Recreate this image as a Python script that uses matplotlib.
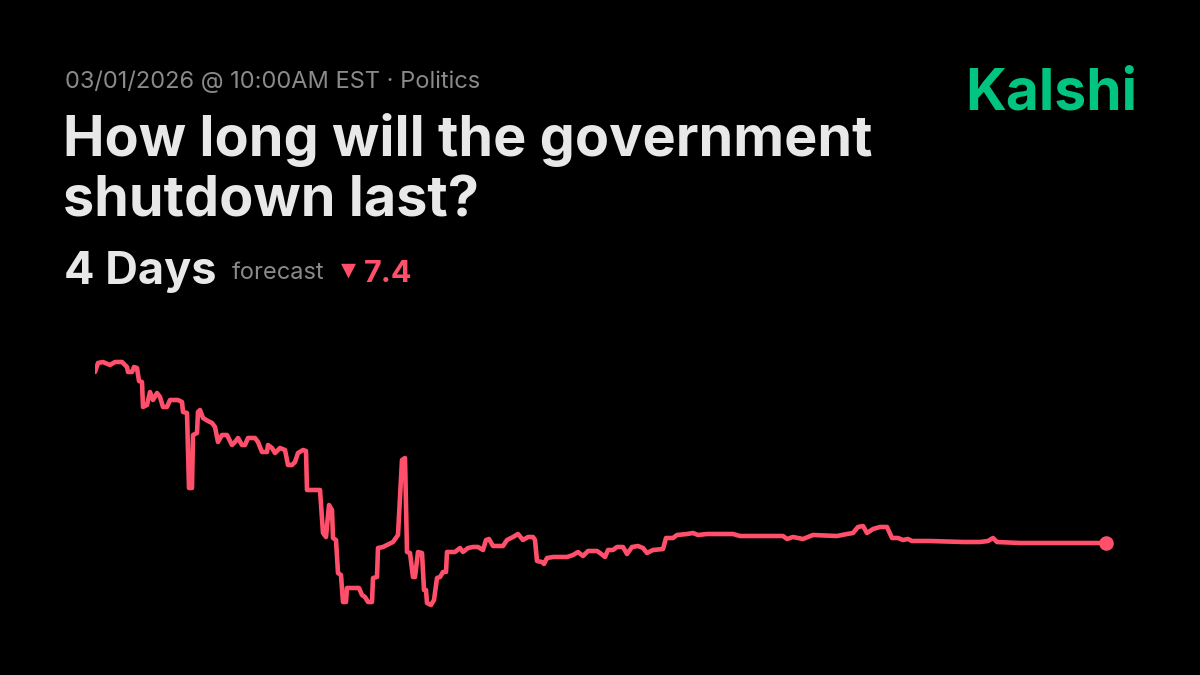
import matplotlib
matplotlib.use("Agg")
import matplotlib.pyplot as plt

# --- Data (time in arbitrary steps, level in arbitrary units) ---
t = [0, 3, 8, 15, 20, 27, 30, 32, 33, 37, 39, 42, 44, 47, 48, 52, 55, 58, 62, 65,
     68, 72, 75, 83, 87, 88, 92, 94, 97, 98, 102, 103, 105, 108, 113, 117, 120, 123, 127, 132,
     137, 140, 143, 147, 150, 153, 160, 163, 167, 172, 173, 177, 180, 185, 190, 193, 197, 200, 203, 208,
     211, 212, 225, 228, 231, 234, 237, 238, 241, 243, 246, 248, 251, 252, 264, 267, 270, 273, 277, 278,
     282, 283, 288, 292, 298, 303, 307, 310, 312, 315, 318, 320, 323, 327, 329, 331, 332, 336, 339, 342,
     345, 348, 351, 352, 360, 365, 368, 373, 378, 383, 388, 391, 394, 398, 408, 412, 418, 423, 428, 433,
     438, 440, 442, 447, 449, 452, 458, 472, 478, 483, 488, 493, 502, 505, 510, 513, 518, 522, 528, 532,
     537, 543, 548, 552, 558, 568, 571, 578, 582, 592, 598, 603, 612, 638, 645, 688, 692, 698, 708, 718,
     742, 752, 758, 763, 768, 772, 778, 785, 792, 797, 803, 808, 813, 817, 835, 868, 885, 893, 898, 902,
     925, 1011]
level = [248, 257, 258, 255, 258, 258, 255, 253, 248, 248, 253, 252, 239, 238, 213, 215, 228, 220, 227, 223,
         213, 213, 220, 220, 218, 208, 207, 132, 132, 185, 187, 208, 210, 202, 199, 197, 193, 178, 185, 185,
         175, 178, 182, 175, 175, 182, 182, 178, 168, 168, 175, 172, 167, 172, 170, 155, 155, 158, 167, 170,
         169, 130, 130, 87, 83, 115, 110, 82, 80, 47, 45, 18, 18, 32, 32, 25, 23, 18, 18, 42,
         43, 72, 73, 75, 78, 85, 160, 162, 68, 67, 43, 43, 68, 67, 30, 30, 17, 15, 20, 42,
         43, 48, 48, 68, 68, 72, 68, 72, 73, 73, 70, 80, 81, 74, 74, 80, 83, 86, 80, 83,
         83, 80, 59, 58, 56, 62, 63, 63, 65, 68, 64, 69, 69, 67, 63, 70, 70, 73, 73, 66,
         73, 74, 72, 67, 70, 71, 82, 82, 85, 86, 87, 85, 86, 86, 84, 84, 81, 83, 81, 85,
         84, 86, 87, 93, 94, 87, 91, 93, 93, 82, 82, 80, 81, 79, 79, 78, 78, 79, 82, 78,
         77, 77]

header = "03/01/2026 @ 10:00AM EST · Politics"
title_lines = ["How long will the government", "shutdown last?"]
forecast_value = "4 Days"
change_value = "7.4"

BG = "#000000"
LINE_RED = "#ff4f6b"
TEXT_LIGHT = "#e8e8e8"
TEXT_GRAY = "#8a8a8a"
KALSHI_GREEN = "#00c47f"
FONT = ["Inter", "DejaVu Sans"]

W, H = 1200, 675
fig = plt.figure(figsize=(12, 6.75), dpi=100, facecolor=BG)


def px(x, y):
    # pixel position (from top-left) -> figure fraction
    return x / W, 1 - y / H


# --- Header texts ---
fig.text(*px(65, 88), header, color=TEXT_GRAY, fontsize=17, family=FONT, va="baseline")
fig.text(*px(63, 156), title_lines[0], color=TEXT_LIGHT, fontsize=40.1, fontweight="bold",
         family=FONT, va="baseline")
fig.text(*px(63, 216), title_lines[1], color=TEXT_LIGHT, fontsize=40.1, fontweight="bold",
         family=FONT, va="baseline")
fig.text(*px(64, 284), forecast_value, color=TEXT_LIGHT, fontsize=32.5, fontweight="bold",
         family=FONT, va="baseline")
fig.text(*px(232, 279), "forecast", color=TEXT_GRAY, fontsize=17, family=FONT, va="baseline")
fig.text(*px(341, 276), "▼", color=LINE_RED, fontsize=14, family=["DejaVu Sans"], va="baseline")
fig.text(*px(364, 282), change_value, color=LINE_RED, fontsize=22, fontweight="bold",
         family=FONT, va="baseline")
fig.text(*px(1137, 109), "Kalshi", color=KALSHI_GREEN, fontsize=41, fontweight="bold",
         family=FONT, va="baseline", ha="right")

# --- Line chart ---
ax = fig.add_axes([95 / W, (H - 620) / H, 1011 / W, 270 / H])
ax.set_facecolor(BG)
ax.plot(t, level, color=LINE_RED, lw=3.3, solid_joinstyle="round", solid_capstyle="round")
ax.plot(t[-1], level[-1], "o", color=LINE_RED, markersize=10.5, markeredgewidth=0, clip_on=False)
ax.set_xlim(0, 1011)
ax.set_ylim(0, 270)
ax.axis("off")

fig.savefig("out.png", dpi=100, facecolor=BG)
